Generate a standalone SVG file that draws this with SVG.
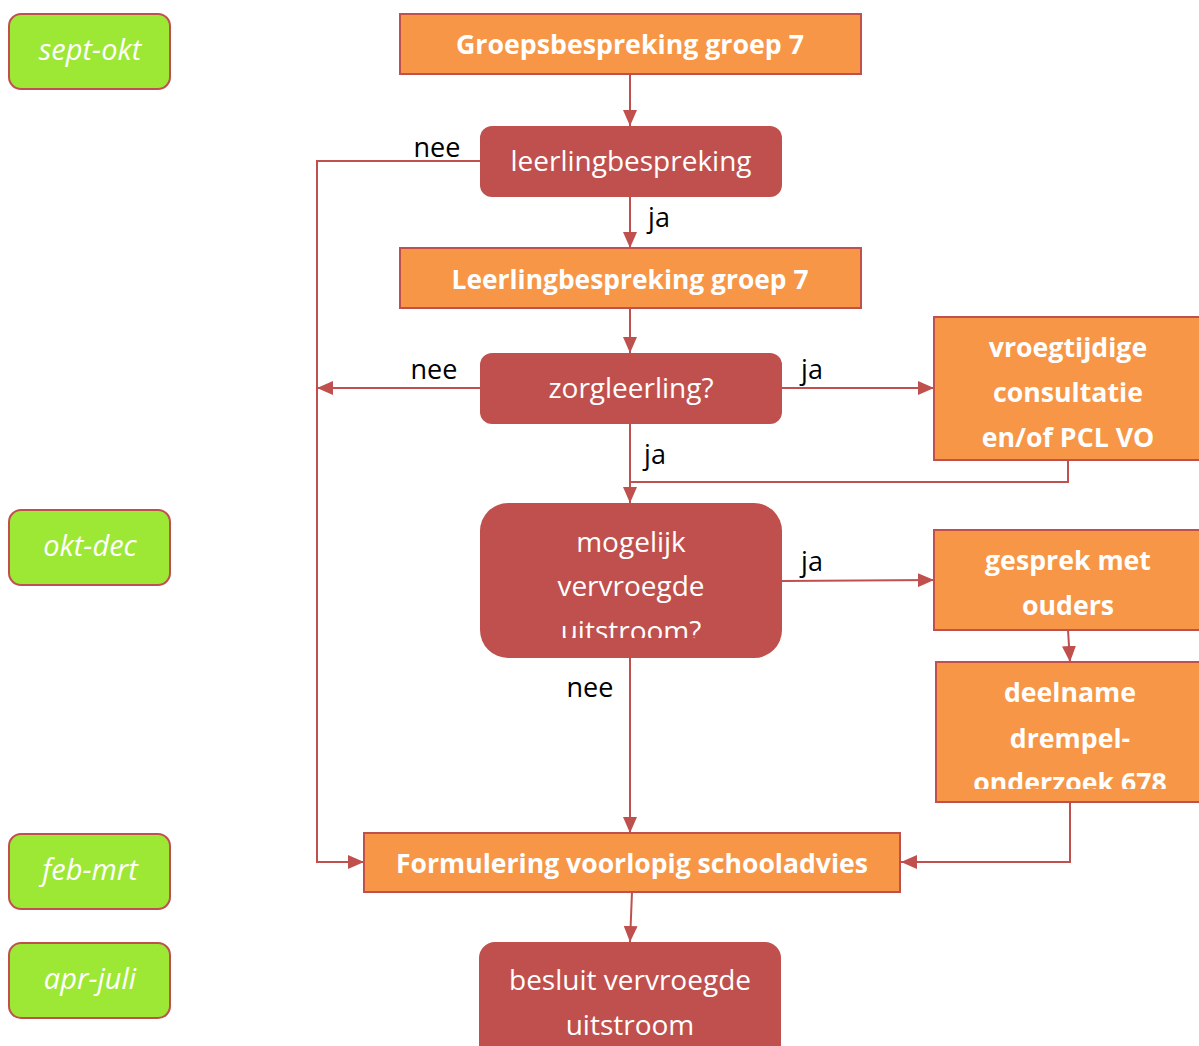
<svg xmlns="http://www.w3.org/2000/svg" width="1199" height="1046" viewBox="0 0 1199 1046">
<style>
.per{fill:#9de834;stroke:#c0504d;stroke-width:2}
.pt{font-family:"Open Sans","Liberation Sans",sans-serif;font-style:italic;font-size:29px;fill:#fff;text-anchor:middle}
.ob{fill:#f79646;stroke:#c0504d;stroke-width:2}
.rb{fill:#c0504d;stroke:none}
.bt{font-family:"Open Sans","Liberation Sans",sans-serif;font-weight:bold;font-size:26.7px;fill:#fff;text-anchor:middle}
.rt{font-family:"Open Sans","Liberation Sans",sans-serif;font-size:28px;fill:#fff;text-anchor:middle}
.lb{font-family:"Open Sans","Liberation Sans",sans-serif;font-size:27px;fill:#000;text-anchor:middle}
.c{fill:none;stroke:#c0504d;stroke-width:2}
</style>
<defs>
<marker id="a" viewBox="0 0 16 14" refX="16" refY="7" markerWidth="16" markerHeight="14" markerUnits="userSpaceOnUse" orient="auto">
<path d="M0,0 L16,7 L0,14 z" fill="#c0504d"/>
</marker>
<clipPath id="clipMog"><rect x="480" y="503" width="302" height="135"/></clipPath>
<clipPath id="clipDeel"><rect x="936" y="662" width="263" height="127"/></clipPath>
</defs>

<g id="connectors">
<line class="c" x1="630" y1="74" x2="630" y2="126" marker-end="url(#a)"/>
<polyline class="c" points="480,161 317,161 317,862 364,862" marker-end="url(#a)"/>
<line class="c" x1="630" y1="197" x2="630" y2="248" marker-end="url(#a)"/>
<line class="c" x1="630" y1="308" x2="630" y2="353" marker-end="url(#a)"/>
<line class="c" x1="480" y1="388" x2="317" y2="388" marker-end="url(#a)"/>
<line class="c" x1="782" y1="388" x2="934" y2="388" marker-end="url(#a)"/>
<line class="c" x1="630" y1="424" x2="630" y2="503" marker-end="url(#a)"/>
<polyline class="c" points="1068,460 1068,482 630,482"/>
<line class="c" x1="782" y1="581" x2="934" y2="580" marker-end="url(#a)"/>
<line class="c" x1="1068" y1="630" x2="1070" y2="662" marker-end="url(#a)"/>
<polyline class="c" points="1070,802 1070,862 901,862" marker-end="url(#a)"/>
<line class="c" x1="630" y1="658" x2="630" y2="833" marker-end="url(#a)"/>
<line class="c" x1="632" y1="892" x2="630" y2="942" marker-end="url(#a)"/>
<text class="lb" x="437" y="157">nee</text>
<text class="lb" x="659" y="227">ja</text>
<text class="lb" x="434" y="379">nee</text>
<text class="lb" x="812" y="379">ja</text>
<text class="lb" x="655" y="464">ja</text>
<text class="lb" x="812" y="571">ja</text>
<text class="lb" x="590" y="697">nee</text>
</g>

<g id="p1"><rect class="per" x="9" y="14" width="161" height="75" rx="12"/><text class="pt" x="90" y="60">sept-okt</text></g>
<g id="p2"><rect class="per" x="9" y="510" width="161" height="75" rx="12"/><text class="pt" x="90" y="556">okt-dec</text></g>
<g id="p3"><rect class="per" x="9" y="834" width="161" height="75" rx="12"/><text class="pt" x="90" y="880">feb-mrt</text></g>
<g id="p4"><rect class="per" x="9" y="943" width="161" height="75" rx="12"/><text class="pt" x="90" y="989">apr-juli</text></g>

<g id="n1"><rect class="ob" x="400" y="14" width="461" height="60"/><text class="bt" x="630" y="54" textLength="348" lengthAdjust="spacingAndGlyphs">Groepsbespreking groep 7</text></g>
<g id="n2"><rect class="rb" x="480" y="126" width="302" height="71" rx="12"/><text class="rt" x="631" y="171">leerlingbespreking</text></g>
<g id="n3"><rect class="ob" x="400" y="248" width="461" height="60"/><text class="bt" x="630" y="289" textLength="357" lengthAdjust="spacingAndGlyphs">Leerlingbespreking groep 7</text></g>
<g id="n4"><rect class="rb" x="480" y="353" width="302" height="71" rx="12"/><text class="rt" x="631" y="398">zorgleerling?</text></g>
<g id="n5"><rect class="ob" x="934" y="317" width="270" height="143"/>
<text class="bt" x="1068" y="357">vroegtijdige</text>
<text class="bt" x="1068" y="402">consultatie</text>
<text class="bt" x="1068" y="447">en/of PCL VO</text></g>
<g id="n6"><rect class="rb" x="480" y="503" width="302" height="155" rx="28"/>
<g clip-path="url(#clipMog)">
<text class="rt" x="631" y="552">mogelijk</text>
<text class="rt" x="631" y="596">vervroegde</text>
<text class="rt" x="631" y="641">uitstroom?</text></g></g>
<g id="n7"><rect class="ob" x="934" y="530" width="270" height="100"/>
<text class="bt" x="1068" y="570">gesprek met</text>
<text class="bt" x="1068" y="615">ouders</text></g>
<g id="n8"><rect class="ob" x="936" y="662" width="268" height="140"/>
<g clip-path="url(#clipDeel)">
<text class="bt" x="1070" y="702">deelname</text>
<text class="bt" x="1070" y="748">drempel-</text>
<text class="bt" x="1070" y="792">onderzoek 678</text></g></g>
<g id="n9"><rect class="ob" x="364" y="833" width="536" height="59"/><text class="bt" x="632" y="873" textLength="472" lengthAdjust="spacingAndGlyphs">Formulering voorlopig schooladvies</text></g>
<g id="n10"><rect class="rb" x="479" y="942" width="302" height="120" rx="16"/>
<text class="rt" x="630" y="990">besluit vervroegde</text>
<text class="rt" x="630" y="1035">uitstroom</text></g>
</svg>
